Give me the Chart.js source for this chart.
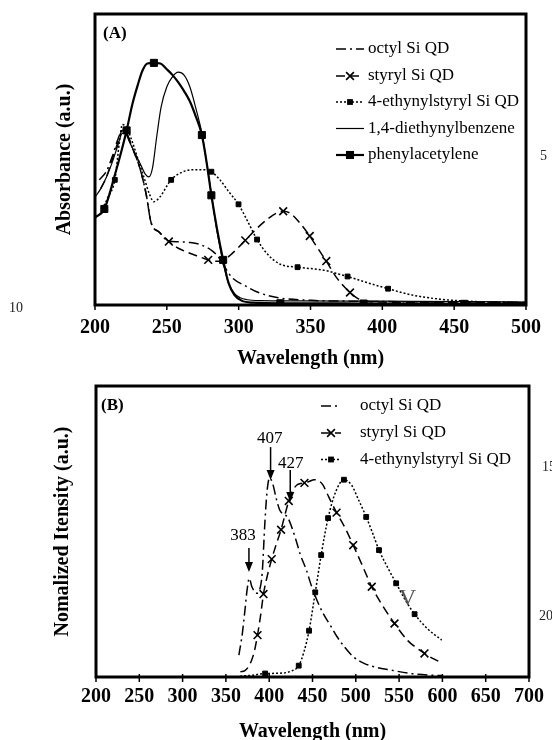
<!DOCTYPE html>
<html lang="en">
  <head>
    <meta charset="UTF-8" />
    <meta name="viewport" content="width=device-width, initial-scale=1.0" />
    <title>Si QD absorbance and PL</title>
    <script src="https://cdn.jsdelivr.net/npm/chart.js@4.4.1/dist/chart.umd.min.js"></script>
    <style>
      html, body { margin: 0; padding: 0; background: #fff; overflow: hidden; }
      .page { position: relative; width: 552px; height: 740px; overflow: hidden; }
      canvas { position: absolute; left: 0; }
      #chartA { top: 0; }
      #chartB { top: 370px; }
      .lineno { position: absolute; font: 14px "Liberation Serif", "Times New Roman", serif; color: #222; line-height: 14px; }
    </style>
  </head>
  <body>
    <div class="page">
      <canvas id="chartA" width="552" height="375"></canvas>
      <canvas id="chartB" width="552" height="380"></canvas>
      <span class="lineno" style="left:9px;top:301px">10</span>
      <span class="lineno" style="left:540px;top:149px">5</span>
      <span class="lineno" style="left:542px;top:460px">15</span>
      <span class="lineno" style="left:539px;top:609px">20</span>
    </div>

    <script>
      //data (A) absorbance
      const wlOctylA = [203, 208, 212, 216, 219, 222, 226, 231, 235.6, 239, 244.8, 250.6, 258, 265.5, 272.4, 281.6, 286.2, 291, 295.4, 304.6, 313.8, 327.6, 350.6, 380, 420, 460, 500];
      const absOctylA = [0.43, 0.46, 0.51, 0.57, 0.6, 0.59, 0.54, 0.474, 0.381, 0.284, 0.25, 0.221, 0.217, 0.215, 0.209, 0.186, 0.163, 0.125, 0.094, 0.066, 0.043, 0.025, 0.016, 0.013, 0.011, 0.01, 0.009];

      const wlStyrylA = [204, 208, 212, 216, 219, 222, 226, 231, 235.6, 239, 244.8, 251.4, 258, 266, 272, 278.8, 284, 288.5, 295, 304.6, 312, 320, 326, 331, 336, 342, 349.5, 355, 361, 368, 377.5, 383, 390, 400, 450, 500];
      const absStyrylA = [0.4, 0.44, 0.5, 0.56, 0.6, 0.59, 0.54, 0.474, 0.381, 0.284, 0.25, 0.218, 0.195, 0.178, 0.167, 0.155, 0.15, 0.152, 0.175, 0.222, 0.26, 0.295, 0.315, 0.322, 0.315, 0.285, 0.237, 0.195, 0.151, 0.095, 0.043, 0.022, 0.012, 0.01, 0.009, 0.008];
      const markStyrylA = [251.4, 278.8, 304.6, 331, 349.5, 361, 377.5];

      const wlEthynylA = [205, 209, 213.8, 217, 219, 222, 226, 230, 234, 238, 241, 245, 253, 260, 268, 275, 281, 287, 293, 299.9, 306, 312.8, 320, 329, 341, 352, 362, 369, 375.8, 390, 404, 420, 440, 460, 480, 500];
      const absEthynylA = [0.33, 0.37, 0.43, 0.56, 0.62, 0.61, 0.56, 0.5, 0.44, 0.38, 0.355, 0.37, 0.43, 0.455, 0.465, 0.465, 0.458, 0.43, 0.39, 0.346, 0.29, 0.225, 0.175, 0.14, 0.13, 0.124, 0.117, 0.107, 0.098, 0.076, 0.056, 0.035, 0.02, 0.013, 0.01, 0.008];
      const markEthynylA = [213.8, 253, 281, 299.9, 312.8, 341, 375.8, 404];

      const wlDiethynylA = [200, 204, 208, 212, 216, 219, 221, 224, 228, 232, 235, 237.5, 240, 243, 246, 250, 254, 258, 262, 266, 270, 274.4, 278, 281, 285, 289, 293, 297, 301, 306, 315, 340, 400, 460, 500];
      const absDiethynylA = [0.37, 0.4, 0.44, 0.49, 0.55, 0.59, 0.59, 0.56, 0.52, 0.48, 0.45, 0.44, 0.47, 0.58, 0.68, 0.75, 0.785, 0.8, 0.79, 0.75, 0.68, 0.59, 0.48, 0.38, 0.25, 0.15, 0.075, 0.04, 0.025, 0.018, 0.015, 0.014, 0.013, 0.012, 0.01];

      const wlPhenylA = [200, 206.5, 214, 222, 226, 230, 233, 236.5, 241, 245.5, 250, 254, 258, 262, 266, 270, 274.4, 278, 281, 285, 289.2, 293, 297, 302, 310, 329, 360, 387, 420, 457, 500];
      const absPhenylA = [0.3, 0.33, 0.45, 0.6, 0.69, 0.76, 0.805, 0.83, 0.832, 0.83, 0.81, 0.79, 0.765, 0.735, 0.7, 0.65, 0.584, 0.48, 0.377, 0.26, 0.155, 0.075, 0.035, 0.015, 0.008, 0.006, 0.006, 0.005, 0.005, 0.004, 0.004];
      const markPhenylA = [206.5, 222, 241, 274.4, 281, 289.2, 329, 387, 457];

      //data (B) photoluminescence
      const wlOctylB = [365, 369, 372, 374.5, 377, 380, 385.7, 389, 392, 395, 397.6, 400.4, 404, 408, 412, 416, 421, 426, 431, 436, 442.9, 448, 454.3, 462, 471.5, 478, 486.7, 497, 509.6, 525, 540, 563, 589.6, 600];
      const intOctylB = [0.075, 0.15, 0.23, 0.3, 0.339, 0.31, 0.288, 0.3, 0.36, 0.53, 0.64, 0.684, 0.665, 0.615, 0.575, 0.56, 0.55, 0.515, 0.47, 0.42, 0.368, 0.32, 0.27, 0.22, 0.173, 0.14, 0.104, 0.07, 0.047, 0.032, 0.024, 0.012, 0.006, 0.005];

      const wlStyrylB = [366.7, 372, 376, 380, 383, 386.5, 390, 393.4, 398, 402.9, 408, 413.7, 418, 422.6, 427, 432, 436, 440.7, 446, 452, 457, 462, 467, 471, 477.8, 488, 497, 508, 518.4, 531, 544.7, 560, 570, 579.3, 590, 599.2];
      const intStyrylB = [0.018, 0.022, 0.035, 0.06, 0.09, 0.144, 0.21, 0.285, 0.35, 0.405, 0.455, 0.506, 0.555, 0.605, 0.64, 0.66, 0.665, 0.667, 0.672, 0.678, 0.675, 0.66, 0.63, 0.605, 0.565, 0.51, 0.453, 0.38, 0.31, 0.245, 0.184, 0.125, 0.1, 0.081, 0.062, 0.049];
      const markStyrylB = [386.5, 393.4, 402.9, 413.7, 422.6, 440.7, 477.8, 497, 518.4, 544.7, 579.3];

      const wlEthynylB = [366.5, 380, 395.3, 412, 425, 434.1, 440, 446, 453.2, 460, 468, 477, 486.3, 495, 503, 512, 520, 526.8, 537, 546.6, 557, 567.9, 583, 599.2];
      const intEthynylB = [0.003, 0.006, 0.012, 0.013, 0.02, 0.039, 0.085, 0.159, 0.291, 0.419, 0.546, 0.638, 0.678, 0.66, 0.61, 0.55, 0.49, 0.436, 0.375, 0.322, 0.265, 0.216, 0.165, 0.127];
      const markEthynylB = [395.3, 434.1, 446, 453.2, 460, 468, 486.3, 512, 526.8, 546.6, 567.9];

      //peak labels in (B): wavelength / intensity units
      const peakNotes = [
        { text: '383', x: 369.7, y: 0.486, arrowX: 376.6, from: 0.443, to: 0.361 },
        { text: '407', x: 400.7, y: 0.821, arrowX: 401.6, from: 0.79, to: 0.677 },
        { text: '427', x: 424.8, y: 0.734, arrowX: 424.3, from: 0.711, to: 0.601 }
      ];

      const SERIF = '"Liberation Serif", "Times New Roman", serif';

      //helpers
      const pts = (xs, ys) => xs.map((x, i) => ({ x: x, y: ys[i] }));

      function series(label, xs, ys, marks, style) {
        return {
          label: label,
          data: pts(xs, ys),
          borderColor: '#000',
          backgroundColor: '#000',
          borderWidth: style.width,
          borderDash: style.dash || [],
          cubicInterpolationMode: 'monotone',
          pointStyle: style.point || 'circle',
          pointRadius: (c) => (c.raw && marks.includes(c.raw.x) ? style.radius : 0),
          pointBorderWidth: style.point === 'crossRot' ? 1.6 : 1,
          pointBorderColor: '#000',
          pointBackgroundColor: '#000',
          markRadius: style.radius || 0
        };
      }

      const OCTYL = { width: 1.5, dash: [10, 4, 2, 4] };
      const STYRYL = { width: 1.5, dash: [9, 5], point: 'crossRot', radius: 5.5 };
      const ETHYNYL = { width: 1.5, dash: [2, 2], point: 'rect', radius: 3.4 };
      const DIETHYNYL = { width: 1.2 };
      const PHENYL = { width: 2.2, point: 'rect', radius: 5 };

      //plugins
      const framePlugin = {
        id: 'frame',
        afterDatasetsDraw(chart, args, opts) {
          const { ctx, chartArea: a } = chart;
          const x = chart.scales.x;
          ctx.save();
          ctx.strokeStyle = '#000';
          ctx.lineWidth = 1.5;
          x.ticks.forEach((t) => {
            const px = x.getPixelForValue(t.value);
            ctx.beginPath();
            ctx.moveTo(px, a.bottom - opts.tickUp);
            ctx.lineTo(px, a.bottom + opts.tickDown);
            ctx.stroke();
          });
          ctx.lineWidth = 3;
          ctx.strokeRect(a.left, a.top, a.right - a.left, a.bottom - a.top);
          ctx.restore();
        }
      };

      function drawMark(ctx, style, x, y, r) {
        if (style === 'crossRot') {
          const d = r * Math.SQRT1_2;
          ctx.lineWidth = 1.6;
          ctx.beginPath();
          ctx.moveTo(x - d, y - d);
          ctx.lineTo(x + d, y + d);
          ctx.moveTo(x - d, y + d);
          ctx.lineTo(x + d, y - d);
          ctx.stroke();
        } else if (style === 'rect') {
          const s = r * Math.SQRT1_2 + 0.5;
          ctx.fillRect(x - s, y - s, 2 * s, 2 * s);
        }
      }

      const keyPlugin = {
        id: 'keyBox',
        afterDraw(chart, args, opts) {
          const ctx = chart.ctx;
          ctx.save();
          ctx.fillStyle = '#000';
          ctx.strokeStyle = '#000';
          ctx.textBaseline = 'middle';
          ctx.textAlign = 'left';
          ctx.font = 'bold 17px ' + SERIF;
          ctx.fillText(opts.tag, opts.tagX, opts.tagY);
          ctx.font = '17px ' + SERIF;
          chart.data.datasets.forEach((ds, i) => {
            const y = opts.rows[i];
            ctx.lineWidth = ds.borderWidth;
            ctx.setLineDash(ds.borderDash);
            ctx.beginPath();
            ctx.moveTo(opts.x0, y);
            ctx.lineTo(opts.x1, y);
            ctx.stroke();
            ctx.setLineDash([]);
            if (ds.markRadius) drawMark(ctx, ds.pointStyle, opts.xm, y, ds.markRadius);
            ctx.fillText(ds.label, opts.xt, y);
          });
          ctx.restore();
        }
      };

      const notePlugin = {
        id: 'notes',
        afterDraw(chart, args, opts) {
          if (!opts.items) return;
          const { ctx, scales: { x, y } } = chart;
          ctx.save();
          ctx.fillStyle = '#000';
          ctx.strokeStyle = '#000';
          ctx.textAlign = 'center';
          ctx.textBaseline = 'middle';
          ctx.font = '17px ' + SERIF;
          opts.items.forEach((n) => {
            ctx.fillText(n.text, x.getPixelForValue(n.x), y.getPixelForValue(n.y));
            const ax = x.getPixelForValue(n.arrowX);
            const y0 = y.getPixelForValue(n.from);
            const y1 = y.getPixelForValue(n.to);
            ctx.lineWidth = 1.5;
            ctx.beginPath();
            ctx.moveTo(ax, y0);
            ctx.lineTo(ax, y1 - 8);
            ctx.stroke();
            ctx.beginPath();
            ctx.moveTo(ax - 4, y1 - 10);
            ctx.lineTo(ax + 4, y1 - 10);
            ctx.lineTo(ax, y1);
            ctx.closePath();
            ctx.fill();
          });
          if (opts.stray) {
            ctx.fillStyle = '#555';
            ctx.font = '24px ' + SERIF;
            ctx.fillText(opts.stray.text, x.getPixelForValue(opts.stray.x), y.getPixelForValue(opts.stray.y));
          }
          ctx.restore();
        }
      };

      //config
      function makeConfig(datasets, xMax, yTitle, geo) {
        return {
          type: 'line',
          data: { datasets: datasets },
          options: {
            responsive: false,
            animation: false,
            events: [],
            layout: { padding: { left: 0, right: geo.right, top: geo.top, bottom: 0 } },
            scales: {
              x: {
                type: 'linear',
                min: 200,
                max: xMax,
                grid: { display: false, drawTicks: false },
                border: { display: false },
                ticks: {
                  stepSize: 50,
                  autoSkip: false,
                  maxRotation: 0,
                  padding: geo.tickPad,
                  color: '#000',
                  font: { family: SERIF, size: 20, weight: 'bold' }
                },
                title: {
                  display: true,
                  text: 'Wavelength (nm)',
                  color: '#000',
                  font: { family: SERIF, size: 20, weight: 'bold' },
                  padding: { top: 0, bottom: geo.titlePad }
                },
                afterFit: (s) => { s.height = geo.xHeight; }
              },
              y: {
                min: 0,
                max: 1,
                grid: { display: false, drawTicks: false },
                border: { display: false },
                ticks: { display: false },
                title: {
                  display: true,
                  text: yTitle,
                  color: '#000',
                  font: { family: SERIF, size: 20, weight: 'bold' },
                  padding: { top: geo.yTitlePad, bottom: 0 }
                },
                afterFit: (s) => { s.width = geo.yWidth; }
              }
            },
            plugins: {
              legend: { display: false },
              tooltip: { enabled: false },
              frame: { tickUp: geo.tickUp, tickDown: geo.tickDown },
              keyBox: geo.key,
              notes: geo.notes || {}
            }
          },
          plugins: [framePlugin, keyPlugin, notePlugin]
        };
      }

      const datasetsA = [
        series('octyl Si QD', wlOctylA, absOctylA, [], OCTYL),
        series('styryl Si QD', wlStyrylA, absStyrylA, markStyrylA, STYRYL),
        series('4-ethynylstyryl Si QD', wlEthynylA, absEthynylA, markEthynylA, ETHYNYL),
        series('1,4-diethynylbenzene', wlDiethynylA, absDiethynylA, [], DIETHYNYL),
        series('phenylacetylene', wlPhenylA, absPhenylA, markPhenylA, PHENYL)
      ];

      const datasetsB = [
        series('octyl Si QD', wlOctylB, intOctylB, [], OCTYL),
        series('styryl Si QD', wlStyrylB, intStyrylB, markStyrylB, STYRYL),
        series('4-ethynylstyryl Si QD', wlEthynylB, intEthynylB, markEthynylB, ETHYNYL)
      ];

      //init
      const chartA = new Chart(document.getElementById('chartA'), makeConfig(datasetsA, 500, 'Absorbance (a.u.)', {
        right: 22, top: 14, yWidth: 95, xHeight: 70, tickPad: 11, titlePad: 4, yTitlePad: 53,
        tickUp: 0, tickDown: 5,
        key: { tag: '(A)', tagX: 103, tagY: 34, x0: 336, x1: 364, xm: 350, xt: 368, rows: [49, 76, 102, 128.5, 155] }
      }));

      const chartB = new Chart(document.getElementById('chartB'), makeConfig(datasetsB, 700, 'Nomalized Itensity (a.u.)', {
        right: 20, top: 16, yWidth: 96, xHeight: 73, tickPad: 8, titlePad: 6, yTitlePad: 51,
        tickUp: 3, tickDown: 5,
        key: { tag: '(B)', tagX: 101, tagY: 36, x0: 321, x1: 341, xm: 331, xt: 360, rows: [36, 63, 89.5] },
        notes: { items: peakNotes, stray: { text: 'V', x: 560, y: 0.268 } }
      }));
    </script>
  </body>
</html>
